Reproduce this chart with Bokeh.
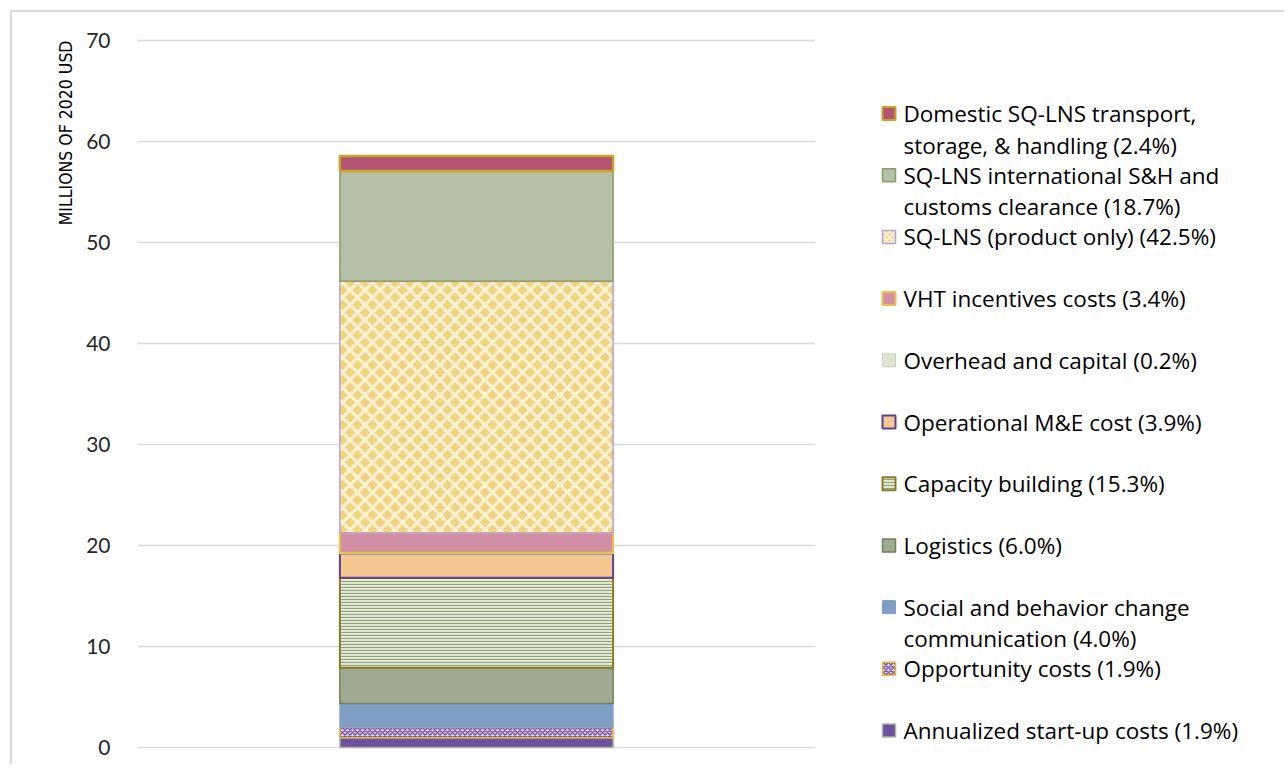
from bokeh.plotting import figure
from bokeh.models import Range1d, FixedTicker, Title
from bokeh.layouts import row
from bokeh.embed import file_html
from bokeh.resources import INLINE
from bokeh.core.properties import value

# ---------------- data (bottom of stack first) ----------------
bar_label = ["Total"]
categories = [
    "Annualized start-up costs",
    "Opportunity costs",
    "Social and behavior change communication",
    "Logistics",
    "Capacity building",
    "Operational M&E cost",
    "Overhead and capital",
    "VHT incentives costs",
    "SQ-LNS (product only)",
    "SQ-LNS international S&H and customs clearance",
    "Domestic SQ-LNS transport, storage, & handling",
]
values = [0.95, 1.05, 2.35, 3.55, 8.9, 2.35, 0.12, 2.0, 24.9, 10.9, 1.5]
percents = ["1.9%", "1.9%", "4.0%", "6.0%", "15.3%", "3.9%", "0.2%", "3.4%", "42.5%", "18.7%", "2.4%"]
legend_lines = [
    ["Annualized start-up costs (1.9%)"],
    ["Opportunity costs (1.9%)"],
    ["Social and behavior change", "communication  (4.0%)"],
    ["Logistics (6.0%)"],
    ["Capacity building (15.3%)"],
    ["Operational M&E cost (3.9%)"],
    ["Overhead and capital (0.2%)"],
    ["VHT incentives costs (3.4%)"],
    ["SQ-LNS (product only)  (42.5%)"],
    ["SQ-LNS international S&H and", "customs clearance (18.7%)"],
    ["Domestic SQ-LNS transport,", "storage, & handling (2.4%)"],
]
y_ticks = [0, 10, 20, 30, 40, 50, 60, 70]
y_title = "MILLIONS OF 2020 USD"

# ---------------- styles ----------------
styles = [
    dict(fill_color="#7050a0", line_color="#a9b99b", line_width=1.5),
    dict(fill_color="#dccfe9", line_color="#e8b830", line_width=1.5,
         hatch_pattern="diagonal_cross", hatch_color="#7b5ba8", hatch_scale=5, hatch_weight=1.5),
    dict(fill_color="#7f9fc6", line_color="#7f9fc6", line_width=1),
    dict(fill_color="#a0aa92", line_color="#6e8058", line_width=1.5),
    dict(fill_color="#e4e9da", line_color="#8c7a22", line_width=2,
         hatch_pattern="horizontal_line", hatch_color="#92a47a", hatch_scale=3, hatch_weight=1.2),
    dict(fill_color="#f6c690", line_color="#5d4090", line_width=2),
    dict(fill_color="#dfe5d6", line_color="#c8d0bc", line_width=1),
    dict(fill_color="#d28fa5", line_color="#ecc046", line_width=2),
    dict(fill_color="#f0d47e", line_color="#b4a2d4", line_width=1.5,
         hatch_pattern="diagonal_cross", hatch_color="#faf1d5", hatch_scale=15, hatch_weight=3.2),
    dict(fill_color="#b4bfa5", line_color="#8a9e6c", line_width=1.5),
    dict(fill_color="#b45473", line_color="#c9a227", line_width=2.5),
]

TICK_FONT = "Lato"
LEG_FONT = "Open Sans"
TITLE_FONT = "'DejaVu Sans Condensed', 'Liberation Sans Narrow', 'Noto Sans'"

# page geometry: content starts at (12, 12) after margin + border
OX, OY = 12, 12
MB_TOP, MB_BOTTOM, MB_LEFT, MB_RIGHT = 23, 12, 125, 23
MAIN_W, MAIN_H = 826, 752
FRAME_TOP = OY + MB_TOP
FRAME_H = MAIN_H - MB_TOP - MB_BOTTOM

# ---------------- main chart ----------------
p = figure(x_range=bar_label, y_range=Range1d(-0.5, 70.5),
           width=MAIN_W, height=MAIN_H, output_backend="svg", toolbar_location=None,
           min_border_left=MB_LEFT, min_border_right=MB_RIGHT,
           min_border_top=MB_TOP, min_border_bottom=MB_BOTTOM)
p.outline_line_color = None
p.xaxis.visible = False
p.xgrid.grid_line_color = None
p.ygrid.grid_line_color = "#d9d9d9"
p.ygrid.grid_line_width = 1.5
p.yaxis.ticker = FixedTicker(ticks=y_ticks)
p.yaxis.axis_line_color = None
p.yaxis.major_tick_line_color = None
p.yaxis.minor_tick_line_color = None
p.yaxis.major_tick_out = 0
p.yaxis.major_tick_in = 0
p.yaxis.major_label_standoff = 27
p.yaxis.major_label_text_font = TICK_FONT
p.yaxis.major_label_text_font_size = "21px"
p.yaxis.major_label_text_color = "#262626"

bottom = 0.0
for v, st in zip(values, styles):
    p.vbar(x=bar_label, bottom=[bottom], top=[bottom + v], width=0.403, **st)
    bottom += v

# vertical axis title placed at the top of the left side
p.add_layout(Title(text=y_title, align="right", offset=5, standoff=16,
                   text_font=TITLE_FONT, text_font_size="17.5px",
                   text_font_style="normal", text_color="#000000"), "left")

# ---------------- legend panel (data coords == page pixels) ----------------
LW = 446
LX0 = OX + MAIN_W
leg = figure(x_range=Range1d(LX0, LX0 + LW), y_range=Range1d(FRAME_TOP + FRAME_H, FRAME_TOP),
             width=LW, height=MAIN_H, output_backend="svg", toolbar_location=None,
             min_border_left=0, min_border_right=0,
             min_border_top=MB_TOP, min_border_bottom=MB_BOTTOM)
leg.axis.visible = False
leg.grid.visible = False
leg.outline_line_color = None

n = len(categories)
for k in range(n):
    i = n - 1 - k          # top of legend = top of stack
    yc = 113 + 61.7 * k
    st = dict(styles[i])
    st["line_width"] = min(st.get("line_width", 1), 2)
    if "hatch_scale" in st:
        st["hatch_scale"] = min(st["hatch_scale"], 6)
        st["hatch_weight"] = min(st["hatch_weight"], 2)
    leg.rect(x=[888.5], y=[yc], width=13, height=13, **st)
    lines = legend_lines[i]
    leg.text(x=[903] * len(lines), y=[yc + 31.5 * j for j in range(len(lines))], text=lines,
             text_font=value(LEG_FONT), text_font_size="22.5px", text_color="#000000",
             text_align="left", text_baseline="middle")

layout = row(p, leg, styles={"margin-left": "10px", "margin-top": "10px",
                             "border-top": "2px solid #d9d9d9", "border-left": "2px solid #d9d9d9"})
open("out.html", "w").write(file_html(layout, INLINE))
